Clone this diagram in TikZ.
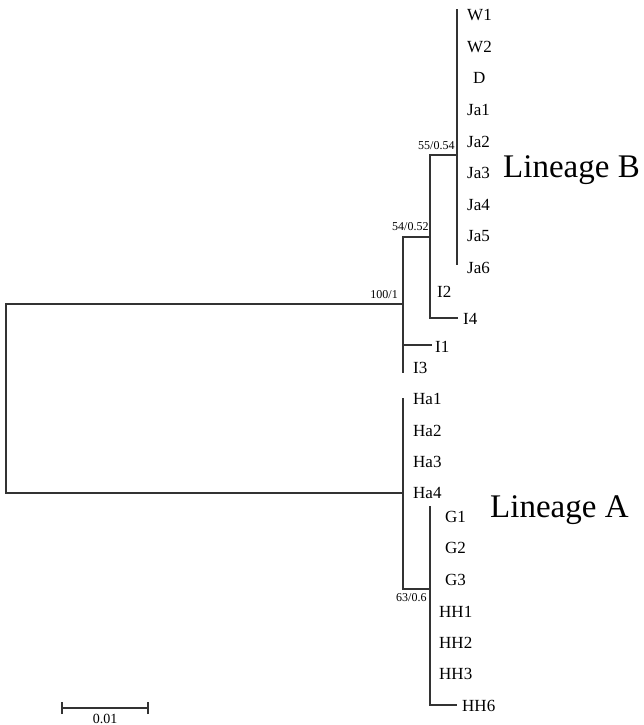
\documentclass[tikz,border=0pt]{standalone}
\usepackage{fontspec}
\setmainfont{Liberation Serif}
\begin{document}
\begin{tikzpicture}[x=1pt,y=-1pt,
  br/.style={line width=1.4pt,black!80,line cap=rect},
  taxon/.style={anchor=base west,inner sep=0pt,font=\fontsize{17}{17}\selectfont},
  supp/.style={inner sep=0pt,font=\fontsize{12}{12}\selectfont},
  lineage/.style={anchor=base west,inner sep=0pt,font=\fontsize{33}{33}\selectfont}]
\useasboundingbox (0,0) rectangle (644,725);
% tree coordinates
\coordinate (r1) at (6,304);
\coordinate (r2) at (6,493);
\coordinate (B) at (403,304);
\coordinate (A) at (403,493);
\coordinate (Bt) at (403,237);
\coordinate (Bb) at (403,372);
\coordinate (B2) at (430,237);
\coordinate (B2t) at (430,155);
\coordinate (B2b) at (430,318);
\coordinate (I1t) at (431,345);
\coordinate (I1b) at (403,345);
\coordinate (B3) at (457,155);
\coordinate (B3t) at (457,10);
\coordinate (B3b) at (457,264);
\coordinate (I4t) at (457,318);
\coordinate (At) at (403,399);
\coordinate (Ab) at (403,589);
\coordinate (A2) at (430,589);
\coordinate (A2t) at (430,507);
\coordinate (A2b) at (430,705);
\coordinate (HH6t) at (456,705);
\coordinate (s1) at (62,708);
\coordinate (s2) at (148,708);
% branches
\draw[br] (B) -- (r1) -- (r2) -- (A);
\draw[br] (Bt) -- (Bb);
\draw[br] (Bt) -- (B2);
\draw[br] (B2t) -- (B2b);
\draw[br] (I1b) -- (I1t);
\draw[br] (B2t) -- (B3);
\draw[br] (B3t) -- (B3b);
\draw[br] (B2b) -- (I4t);
\draw[br] (At) -- (Ab) -- (A2);
\draw[br] (A2t) -- (A2b) -- (HH6t);
% scale bar
\draw[line width=1.2pt,black!80] (s1) -- (s2);
\draw[line width=1.2pt,black!80] ([yshift=-6]s1) -- ([yshift=6]s1);
\draw[line width=1.2pt,black!80] ([yshift=-6]s2) -- ([yshift=6]s2);
\node[anchor=base,inner sep=0pt,font=\fontsize{14}{14}\selectfont] (sl) at (105,723) {0.01};
% support values
\node[supp,anchor=base east] (s100) at (398,298) {100/1};
\node[supp,anchor=base west] (s54) at (392,230) {54/0.52};
\node[supp,anchor=base west] (s55) at (418,149) {55/0.54};
\node[supp,anchor=base west] (s63) at (396,601) {63/0.6};
% taxa
\node[taxon] (W1) at (467,21) {W1};
\node[taxon] (W2) at (467,52.5) {W2};
\node[taxon] (D) at (473,84) {D};
\node[taxon] (Ja1) at (467,115.5) {Ja1};
\node[taxon] (Ja2) at (467,147) {Ja2};
\node[taxon] (Ja3) at (467,178.5) {Ja3};
\node[taxon] (Ja4) at (467,210) {Ja4};
\node[taxon] (Ja5) at (467,241.5) {Ja5};
\node[taxon] (Ja6) at (467,273) {Ja6};
\node[taxon] (I2) at (437,297) {I2};
\node[taxon] (I4) at (463,324) {I4};
\node[taxon] (I1) at (435,352) {I1};
\node[taxon] (I3) at (413,373) {I3};
\node[taxon] (Ha1) at (413,404) {Ha1};
\node[taxon] (Ha2) at (413,436) {Ha2};
\node[taxon] (Ha3) at (413,467) {Ha3};
\node[taxon] (Ha4) at (413,498) {Ha4};
\node[taxon] (G1) at (445,522) {G1};
\node[taxon] (G2) at (445,553) {G2};
\node[taxon] (G3) at (445,585) {G3};
\node[taxon] (HH1) at (439,617) {HH1};
\node[taxon] (HH2) at (439,648) {HH2};
\node[taxon] (HH3) at (439,679) {HH3};
\node[taxon] (HH6) at (462,711) {HH6};
% lineages
\node[lineage] (LB) at (503,177) {Lineage B};
\node[lineage] (LA) at (490,517) {Lineage A};
\end{tikzpicture}
\end{document}
